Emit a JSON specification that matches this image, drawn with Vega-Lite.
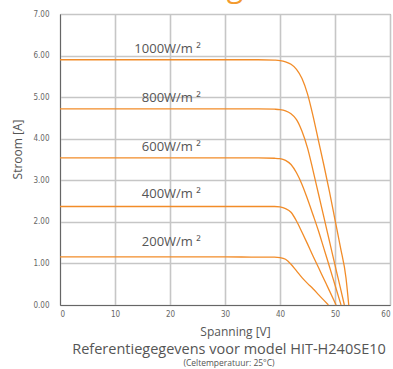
{
  "$schema": "https://vega.github.io/schema/vega-lite/v6.json",
  "width": 330,
  "height": 291,
  "autosize": {"type": "none"},
  "padding": {"left": 60, "top": 14, "right": 3, "bottom": 64},
  "background": "white",
  "config": {
    "view": {"stroke": "#7a7a7a", "strokeWidth": 1},
    "font": "Open Sans",
    "axis": {
      "domainColor": "#666666",
      "domainWidth": 1,
      "ticks": false,
      "labelFont": "DejaVu Sans Condensed",
      "labelFontSize": 8,
      "labelColor": "#666666",
      "titleFont": "Open Sans",
      "titleFontSize": 12,
      "titleFontWeight": "normal",
      "titleColor": "#555555",
      "grid": true,
      "gridColor": "#c6c6c6",
      "gridOpacity": 1,
      "gridWidth": 1.6
    }
  },
  "title": {
    "text": "Referentiegegevens voor model HIT-H240SE10",
    "subtitle": "(Celtemperatuur: 25°C)",
    "orient": "bottom",
    "anchor": "middle",
    "frame": "group",
    "font": "Open Sans",
    "fontSize": 14.5,
    "fontWeight": "normal",
    "color": "#555555",
    "subtitleFont": "Open Sans",
    "subtitleFontSize": 8.5,
    "subtitleColor": "#555555",
    "subtitlePadding": 1,
    "offset": 6,
    "dx": 4
  },
  "datasets": {
    "curves": [
      {"v": 0, "i": 5.90, "g": "1000"}, {"v": 10, "i": 5.90, "g": "1000"}, {"v": 20, "i": 5.90, "g": "1000"}, {"v": 30, "i": 5.90, "g": "1000"}, {"v": 36, "i": 5.90, "g": "1000"}, {"v": 39, "i": 5.89, "g": "1000"}, {"v": 40, "i": 5.88, "g": "1000"}, {"v": 41, "i": 5.85, "g": "1000"}, {"v": 42, "i": 5.79, "g": "1000"}, {"v": 43, "i": 5.67, "g": "1000"}, {"v": 44, "i": 5.45, "g": "1000"}, {"v": 45, "i": 5.08, "g": "1000"}, {"v": 46, "i": 4.55, "g": "1000"}, {"v": 47, "i": 3.95, "g": "1000"}, {"v": 48, "i": 3.35, "g": "1000"}, {"v": 49, "i": 2.72, "g": "1000"}, {"v": 50, "i": 2.05, "g": "1000"}, {"v": 51, "i": 1.38, "g": "1000"}, {"v": 52, "i": 0.65, "g": "1000"}, {"v": 52.5, "i": 0, "g": "1000"},
      {"v": 0, "i": 4.72, "g": "800"}, {"v": 10, "i": 4.72, "g": "800"}, {"v": 20, "i": 4.72, "g": "800"}, {"v": 30, "i": 4.72, "g": "800"}, {"v": 36, "i": 4.72, "g": "800"}, {"v": 39, "i": 4.71, "g": "800"}, {"v": 40, "i": 4.70, "g": "800"}, {"v": 41, "i": 4.67, "g": "800"}, {"v": 42, "i": 4.60, "g": "800"}, {"v": 43, "i": 4.46, "g": "800"}, {"v": 44, "i": 4.18, "g": "800"}, {"v": 45, "i": 3.78, "g": "800"}, {"v": 46, "i": 3.24, "g": "800"}, {"v": 47, "i": 2.67, "g": "800"}, {"v": 48, "i": 2.10, "g": "800"}, {"v": 49, "i": 1.53, "g": "800"}, {"v": 50, "i": 0.96, "g": "800"}, {"v": 51, "i": 0.40, "g": "800"}, {"v": 51.7, "i": 0, "g": "800"},
      {"v": 0, "i": 3.54, "g": "600"}, {"v": 10, "i": 3.54, "g": "600"}, {"v": 20, "i": 3.54, "g": "600"}, {"v": 30, "i": 3.54, "g": "600"}, {"v": 36, "i": 3.54, "g": "600"}, {"v": 39, "i": 3.53, "g": "600"}, {"v": 40, "i": 3.52, "g": "600"}, {"v": 41, "i": 3.48, "g": "600"}, {"v": 42, "i": 3.38, "g": "600"}, {"v": 43, "i": 3.18, "g": "600"}, {"v": 44, "i": 2.90, "g": "600"}, {"v": 45, "i": 2.55, "g": "600"}, {"v": 46, "i": 2.17, "g": "600"}, {"v": 47, "i": 1.78, "g": "600"}, {"v": 48, "i": 1.35, "g": "600"}, {"v": 49, "i": 0.92, "g": "600"}, {"v": 50, "i": 0.48, "g": "600"}, {"v": 51.1, "i": 0, "g": "600"},
      {"v": 0, "i": 2.37, "g": "400"}, {"v": 10, "i": 2.37, "g": "400"}, {"v": 20, "i": 2.37, "g": "400"}, {"v": 30, "i": 2.37, "g": "400"}, {"v": 36, "i": 2.37, "g": "400"}, {"v": 39, "i": 2.37, "g": "400"}, {"v": 40, "i": 2.36, "g": "400"}, {"v": 41, "i": 2.32, "g": "400"}, {"v": 42, "i": 2.23, "g": "400"}, {"v": 43, "i": 2.02, "g": "400"}, {"v": 44, "i": 1.75, "g": "400"}, {"v": 45, "i": 1.47, "g": "400"}, {"v": 46, "i": 1.18, "g": "400"}, {"v": 47, "i": 0.90, "g": "400"}, {"v": 48, "i": 0.62, "g": "400"}, {"v": 49, "i": 0.34, "g": "400"}, {"v": 50.2, "i": 0, "g": "400"},
      {"v": 0, "i": 1.16, "g": "200"}, {"v": 10, "i": 1.16, "g": "200"}, {"v": 20, "i": 1.16, "g": "200"}, {"v": 30, "i": 1.16, "g": "200"}, {"v": 36, "i": 1.15, "g": "200"}, {"v": 39, "i": 1.15, "g": "200"}, {"v": 40, "i": 1.14, "g": "200"}, {"v": 41, "i": 1.10, "g": "200"}, {"v": 42, "i": 0.98, "g": "200"}, {"v": 43, "i": 0.82, "g": "200"}, {"v": 44, "i": 0.66, "g": "200"}, {"v": 45, "i": 0.52, "g": "200"}, {"v": 46, "i": 0.39, "g": "200"}, {"v": 47, "i": 0.25, "g": "200"}, {"v": 48, "i": 0.11, "g": "200"}, {"v": 48.8, "i": 0, "g": "200"}
    ],
    "labels": [
      {"label": "1000W/m ²", "v": 25.6, "i": 6.15},
      {"label": "800W/m ²", "v": 25.6, "i": 4.97},
      {"label": "600W/m ²", "v": 25.6, "i": 3.81},
      {"label": "400W/m ²", "v": 25.6, "i": 2.66},
      {"label": "200W/m ²", "v": 25.6, "i": 1.52}
    ],
    "heading": [
      {"label": "Afhankelijkheid van de instraling", "v": 33.3, "i": 7.40}
    ]
  },
  "layer": [
    {
      "data": {"name": "curves"},
      "mark": {"type": "line", "color": "#f28c28", "strokeWidth": 1.3, "interpolate": "monotone"},
      "encoding": {
        "x": {
          "field": "v", "type": "quantitative",
          "scale": {"domain": [0, 60], "nice": false},
          "axis": {
            "values": [0, 10, 20, 30, 40, 50, 60],
            "title": "Spanning [V]",
            "titleX": 175, "titleY": 26, "titleBaseline": "middle",
            "labelPadding": 5
          }
        },
        "y": {
          "field": "i", "type": "quantitative",
          "scale": {"domain": [0, 7], "nice": false},
          "axis": {
            "values": [0, 1, 2, 3, 4, 5, 6, 7],
            "format": ".2f",
            "title": "Stroom [A]",
            "titleX": -43, "titleY": 135, "titleBaseline": "middle",
            "labelPadding": 11
          }
        },
        "detail": {"field": "g", "type": "nominal"}
      }
    },
    {
      "data": {"name": "labels"},
      "mark": {"type": "text", "align": "right", "baseline": "middle", "font": "Open Sans", "fontSize": 13, "color": "#555555"},
      "encoding": {
        "x": {"field": "v", "type": "quantitative"},
        "y": {"field": "i", "type": "quantitative"},
        "text": {"field": "label", "type": "nominal"}
      }
    },
    {
      "data": {"name": "heading"},
      "mark": {"type": "text", "align": "right", "baseline": "alphabetic", "font": "Open Sans", "fontSize": 30, "color": "#f39a2e"},
      "encoding": {
        "x": {"field": "v", "type": "quantitative"},
        "y": {"field": "i", "type": "quantitative"},
        "text": {"field": "label", "type": "nominal"}
      }
    }
  ]
}
